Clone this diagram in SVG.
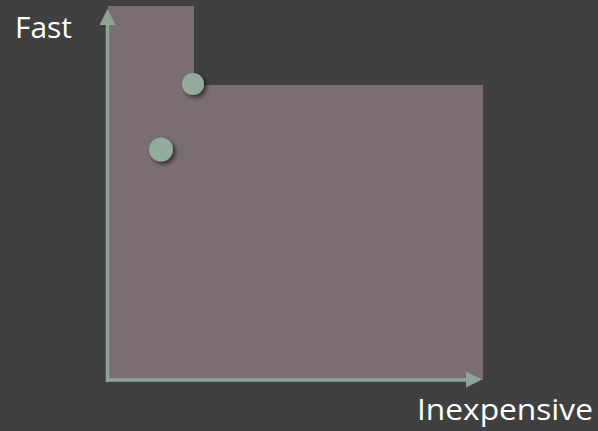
<svg xmlns="http://www.w3.org/2000/svg" width="598" height="431" viewBox="0 0 598 431">
<style>
.axis{stroke:#8fa397;stroke-width:3.5;fill:none}
.head{fill:#8fa397}
.dot{fill:#93aa9d}
.lbl{font-family:"Open Sans","Noto Sans",sans-serif;font-size:30px;fill:#ffffff}
</style>
<defs>
<filter id="sh" x="-50%" y="-50%" width="200%" height="200%">
<feDropShadow dx="2.5" dy="2.5" stdDeviation="2" flood-color="#000" flood-opacity="0.6"/>
</filter>
</defs>
<rect width="598" height="431" fill="#404040"/>
<g id="region">
<polygon points="108,6 194,6 194,85 483,85 483,380 108,380" fill="#7a6e73"/>
</g>
<g id="connectors">
<line class="axis" x1="107.5" y1="382" x2="107.5" y2="22"/>
<polygon class="head" points="107.5,9 99.5,25 115.5,25"/>
<line class="axis" x1="106" y1="380" x2="469" y2="380"/>
<polygon class="head" points="482,379.5 466,371.5 466,387.5"/>
</g>
<g id="point1"><circle class="dot" cx="193" cy="84" r="11" filter="url(#sh)"/></g>
<g id="point2"><circle class="dot" cx="161" cy="149.5" r="12" filter="url(#sh)"/></g>
<g id="label-fast"><text class="lbl" x="15" y="38" textLength="57" lengthAdjust="spacingAndGlyphs">Fast</text></g>
<g id="label-inexpensive"><text class="lbl" x="417" y="420" textLength="176" lengthAdjust="spacingAndGlyphs">Inexpensive</text></g>
</svg>
